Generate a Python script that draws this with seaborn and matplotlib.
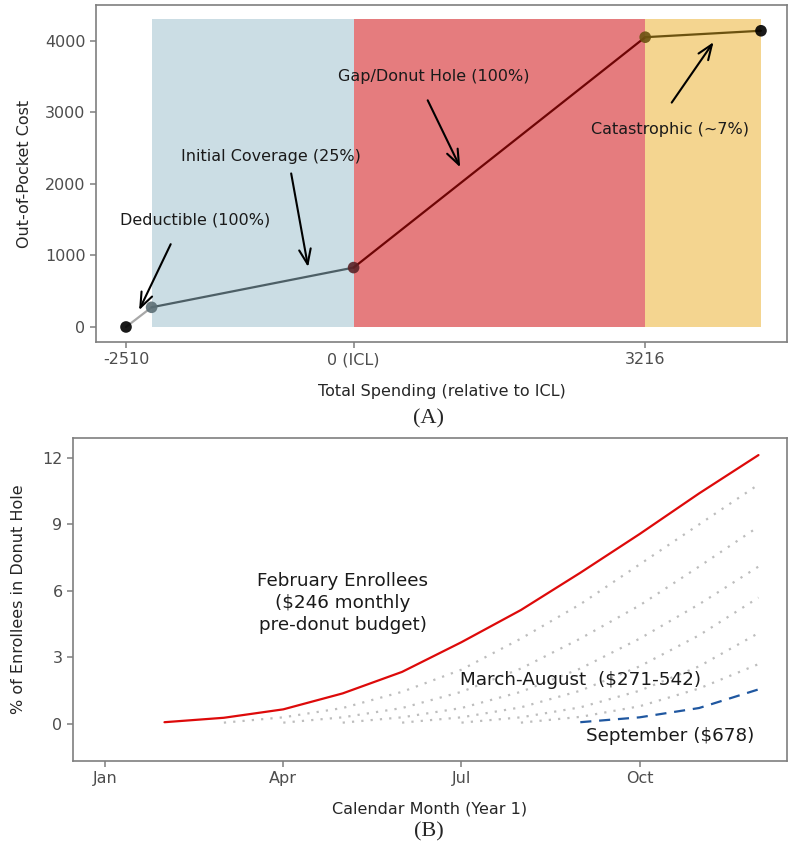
import numpy as np
import pandas as pd
import matplotlib
matplotlib.use("Agg")
import matplotlib.pyplot as plt
import seaborn as sns

sns.set_theme(style="ticks")
plt.rcParams["font.family"] = ["DejaVu Sans"]

# ---------------- Panel A: Part D benefit phases ----------------
phase_names = ["Deductible", "Initial Coverage", "Gap", "Catastrophic"]
spend = [-2510, -2228, 0, 3216, 4493]          # total spending relative to ICL
oop = [0, 275, 830, 4050, 4140]                 # cumulative out-of-pocket cost
seg_colors = ["#a8a8a8", "#4d5f66", "#6e0505", "#6b5210"]
pt_colors = ["#000000", "#5b6e75", "#5a2226", "#6b5210", "#000000"]
band_colors = ["#cbdde4", "#e57c7e", "#f4d590"]
band_top = 4300
tick_vals_a = [-2510, 0, 3216]
tick_labels_a = ["-2510", "0 (ICL)", "3216"]

# ---------------- Panel B: share of enrollees in the donut hole ----------------
months_feb = [2, 3, 4, 5, 6, 7, 8, 9, 10, 11, 12]
feb = [0.08, 0.28, 0.66, 1.38, 2.35, 3.69, 5.14, 6.82, 8.57, 10.40, 12.13]
mar = [0.06, 0.30, 0.72, 1.45, 2.45, 3.85, 5.40, 7.20, 9.00, 10.80]
apr = [0.06, 0.30, 0.72, 1.45, 2.50, 3.85, 5.35, 7.10, 8.90]
may = [0.06, 0.30, 0.72, 1.45, 2.50, 3.85, 5.40, 7.10]
jun = [0.06, 0.30, 0.75, 1.50, 2.60, 4.00, 5.70]
jul = [0.06, 0.30, 0.75, 1.50, 2.60, 4.10]
aug = [0.06, 0.32, 0.80, 1.60, 2.70]
sep = [0.08, 0.30, 0.72, 1.56]
month_ticks = [1, 4, 7, 10]
month_labels = ["Jan", "Apr", "Jul", "Oct"]

W, H = 788, 849
fig = plt.figure(figsize=(W / 100, H / 100), dpi=100)

def px_axes(left, top, right, bottom):
    return fig.add_axes([left / W, 1 - bottom / H, (right - left) / W, (bottom - top) / H])

def style_axes(ax):
    for s in ax.spines.values():
        s.set_visible(True)
        s.set_color("#7f7f7f")
        s.set_linewidth(1.2)
    ax.tick_params(colors="#7f7f7f", labelcolor="#4d4d4d", labelsize=11.5,
                   length=4, width=1.1)
    ax.grid(False)

# ---- Panel A ----
axA = px_axes(96, 5, 787, 342)
for i, c in enumerate(band_colors):
    axA.fill_between([spend[i + 1], spend[i + 2]], 0, band_top, color=c, lw=0, zorder=0)

seg_df = pd.DataFrame({
    "spend": [spend[i + k] for i in range(4) for k in range(2)],
    "oop": [oop[i + k] for i in range(4) for k in range(2)],
    "phase": [phase_names[i] for i in range(4) for k in range(2)],
})
sns.lineplot(data=seg_df, x="spend", y="oop", hue="phase", palette=seg_colors,
             hue_order=phase_names, lw=1.6, legend=False, ax=axA, zorder=2)
pts_df = pd.DataFrame({"spend": spend, "oop": oop, "k": range(5)})
sns.scatterplot(data=pts_df, x="spend", y="oop", hue="k", palette=pt_colors,
                s=70, edgecolor="none", alpha=0.9, legend=False, ax=axA, zorder=3)

axA.set_xlim(-2841, 4780)
axA.set_ylim(-210, 4500)
axA.set_xticks(tick_vals_a, tick_labels_a)
axA.set_yticks([0, 1000, 2000, 3000, 4000])
style_axes(axA)
axA.set_xlabel("Total Spending (relative to ICL)", fontsize=11.5, labelpad=12)
axA.set_ylabel("Out-of-Pocket Cost", fontsize=11.5, labelpad=9)

arrow = dict(arrowstyle="->,head_length=0.9,head_width=0.35", lw=1.5, color="black")
notes_a = [
    ("Deductible (100%)", (-1751, 1496), (-2004, 1192), (-2379, 200)),
    ("Initial Coverage (25%)", (-914, 2380), (-694, 2184), (-496, 800)),
    ("Gap/Donut Hole (100%)", (881, 3497), (804, 3203), (1189, 2197)),
    ("Catastrophic (~7%)", (3491, 2755), (3491, 3104), (3987, 4013)),
]
for txt, tpos, start, end in notes_a:
    axA.text(*tpos, txt, ha="center", va="center", fontsize=11.5, color="#1a1a1a", zorder=5)
    axA.annotate("", xy=end, xytext=start, arrowprops=arrow, zorder=5)

fig.text(429 / W, 1 - 419 / H, "(A)", ha="center", va="center",
         fontsize=16, family=["Liberation Serif", "DejaVu Serif"])

# ---- Panel B ----
axB = px_axes(73, 438, 787, 761)
cohorts = {"Mar": mar, "Apr": apr, "May": may, "Jun": jun, "Jul": jul, "Aug": aug}
rows = []
for start, (name, vals) in zip(range(3, 9), cohorts.items()):
    for j, v in enumerate(vals):
        rows.append((name, start + j, v))
mid_df = pd.DataFrame(rows, columns=["cohort", "month", "pct"])
sns.lineplot(data=mid_df, x="month", y="pct", units="cohort", estimator=None,
             color="#bdbdbd", lw=1.6, ls=(0, (1, 3.2)), ax=axB, zorder=1)
feb_df = pd.DataFrame({"month": months_feb, "pct": feb})
sns.lineplot(data=feb_df, x="month", y="pct", color="#dd0a0a", lw=1.6, ax=axB, zorder=3)
sep_df = pd.DataFrame({"month": list(range(9, 13)), "pct": sep})
sns.lineplot(data=sep_df, x="month", y="pct", color="#1f57a0", lw=1.6,
             ls=(0, (5, 3.5)), ax=axB, zorder=3)

axB.set_xlim(0.46, 12.48)
axB.set_ylim(-1.67, 12.9)
axB.set_xticks(month_ticks, month_labels)
axB.set_yticks([0, 3, 6, 9, 12])
style_axes(axB)
axB.set_xlabel("Calendar Month (Year 1)", fontsize=11.5, labelpad=11)
axB.set_ylabel("% of Enrollees in Donut Hole", fontsize=11.5, labelpad=12)

axB.text(5.0, 5.46, "February Enrollees\n($246 monthly\npre-donut budget)",
         ha="center", va="center", fontsize=13.2, color="#1a1a1a", linespacing=1.3)
axB.text(9.01, 1.98, "March-August  ($271-542)", ha="center", va="center",
         fontsize=13.2, color="#1a1a1a")
axB.text(10.51, -0.54, "September ($678)", ha="center", va="center",
         fontsize=13.2, color="#1a1a1a")

fig.text(429 / W, 1 - 832 / H, "(B)", ha="center", va="center",
         fontsize=16, family=["Liberation Serif", "DejaVu Serif"])

fig.savefig("out.png", dpi=100)
